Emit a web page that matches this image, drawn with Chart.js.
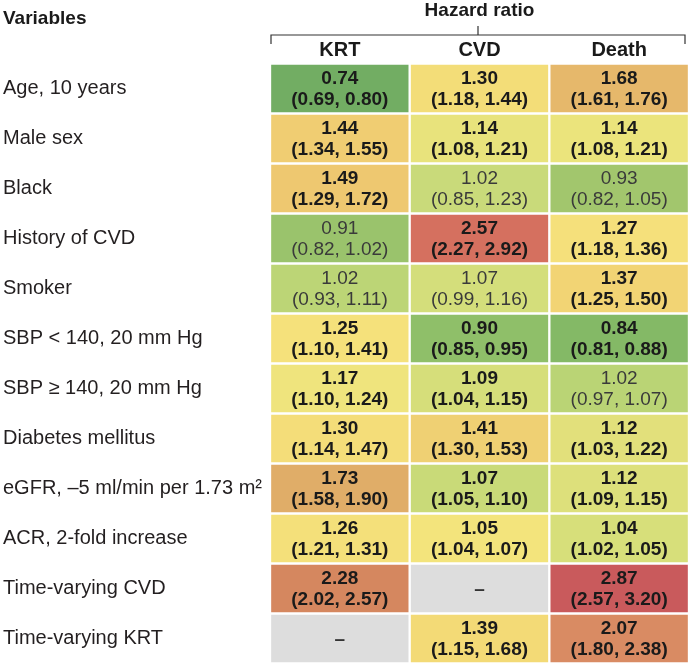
<!DOCTYPE html>
<html>
<head>
<meta charset="utf-8">
<script src="https://cdn.jsdelivr.net/npm/chart.js@4.4.1/dist/chart.umd.min.js"></script>
<style>
  html, body { margin: 0; padding: 0; background: #fff; }
</style>
</head>
<body>
<canvas id="hr_table" width="689" height="665"></canvas>
<script>
// rows and columns of the table
const variables = ["Age, 10 years", "Male sex", "Black", "History of CVD", "Smoker",
    "SBP < 140, 20 mm Hg", "SBP \u2265 140, 20 mm Hg", "Diabetes mellitus",
    "eGFR, \u20135 ml/min per 1.73 m\u00b2", "ACR, 2-fold increase",
    "Time-varying CVD", "Time-varying KRT"];
const outcomes = ["KRT", "CVD", "Death"];

// hazard ratios and 95% CI (null = not estimated)
const krtHR = [0.74, 1.44, 1.49, 0.91, 1.02, 1.25, 1.17, 1.30, 1.73, 1.26, 2.28, null];
const krtLo = [0.69, 1.34, 1.29, 0.82, 0.93, 1.10, 1.10, 1.14, 1.58, 1.21, 2.02, null];
const krtHi = [0.80, 1.55, 1.72, 1.02, 1.11, 1.41, 1.24, 1.47, 1.90, 1.31, 2.57, null];

const cvdHR = [1.30, 1.14, 1.02, 2.57, 1.07, 0.90, 1.09, 1.41, 1.07, 1.05, null, 1.39];
const cvdLo = [1.18, 1.08, 0.85, 2.27, 0.99, 0.85, 1.04, 1.30, 1.05, 1.04, null, 1.15];
const cvdHi = [1.44, 1.21, 1.23, 2.92, 1.16, 0.95, 1.15, 1.53, 1.10, 1.07, null, 1.68];

const deathHR = [1.68, 1.14, 0.93, 1.27, 1.37, 0.84, 1.02, 1.12, 1.12, 1.04, 2.87, 2.07];
const deathLo = [1.61, 1.08, 0.82, 1.18, 1.25, 0.81, 0.97, 1.03, 1.09, 1.02, 2.57, 1.80];
const deathHi = [1.76, 1.21, 1.05, 1.36, 1.50, 0.88, 1.07, 1.22, 1.15, 1.05, 3.20, 2.38];

// cell fill colours, one row per variable: KRT, CVD, Death
const cellColors = [
    ["#72ad63", "#f3dd78", "#e6b86b"],
    ["#f0cd72", "#e8e37c", "#ebe47c"],
    ["#eec870", "#c9da7a", "#a2c66d"],
    ["#9ac36c", "#d5705f", "#f5e07b"],
    ["#bcd576", "#d4de7b", "#f2d474"],
    ["#f5e17b", "#8fbf69", "#84b966"],
    ["#efe47d", "#d6de7a", "#bad475"],
    ["#f4dd79", "#efd073", "#e2e07b"],
    ["#e0ad68", "#c9da78", "#dde07b"],
    ["#f4e07a", "#f3e47c", "#d7df7a"],
    ["#d5875f", "#dddddd", "#c95a5c"],
    ["#dddddd", "#f3da76", "#d98b63"]
];

const hr = [krtHR, cvdHR, deathHR];
const lo = [krtLo, cvdLo, deathLo];
const hi = [krtHi, cvdHi, deathHi];

const FONT = '"Liberation Sans", Arial, Helvetica, sans-serif';
Chart.defaults.font.family = FONT;

// writes the estimate and CI inside each cell
const cellText = {
    id: "cellText",
    afterDatasetsDraw(chart) {
        const ctx = chart.ctx;
        ctx.save();
        ctx.textAlign = "center";
        ctx.textBaseline = "alphabetic";
        chart.data.datasets.forEach(function (ds, c) {
            chart.getDatasetMeta(c).data.forEach(function (bar, r) {
                const cx = (bar.x + bar.base) / 2;
                const cy = bar.y;
                const v = hr[c][r];
                if (v === null) {
                    ctx.font = "bold 19px " + FONT;
                    ctx.fillStyle = "#333";
                    ctx.fillText("\u2013", cx, cy + 6);
                    return;
                }
                const sig = lo[c][r] > 1 || hi[c][r] < 1;
                ctx.font = (sig ? "bold " : "") + "19px " + FONT;
                ctx.fillStyle = sig ? "#1a1a1a" : "#3a3a3a";
                ctx.fillText(v.toFixed(2), cx, cy - 5);
                ctx.fillText("(" + lo[c][r].toFixed(2) + ", " + hi[c][r].toFixed(2) + ")", cx, cy + 16.5);
            });
        });
        ctx.restore();
    }
};

// "Variables" heading and the bracket under "Hazard ratio"
const headerDecor = {
    id: "headerDecor",
    afterDraw(chart) {
        const ctx = chart.ctx;
        const xs = chart.scales.x;
        const l = xs.getPixelForValue(0) + 1;
        const r = xs.getPixelForValue(3) - 4;
        const mid = (l + r) / 2;
        ctx.save();
        ctx.strokeStyle = "#333";
        ctx.lineWidth = 1.2;
        ctx.beginPath();
        ctx.moveTo(l, 44);
        ctx.lineTo(l, 35);
        ctx.lineTo(r, 35);
        ctx.lineTo(r, 44);
        ctx.moveTo(mid, 35);
        ctx.lineTo(mid, 26);
        ctx.stroke();
        ctx.font = "bold 19px " + FONT;
        ctx.fillStyle = "#1a1a1a";
        ctx.textAlign = "left";
        ctx.textBaseline = "alphabetic";
        ctx.fillText("Variables", 3, 24);
        ctx.restore();
    }
};

let datasets = outcomes.map(function (name, c) {
    return {
        label: name,
        data: variables.map(function () { return [c, c + 1]; }),
        backgroundColor: cellColors.map(function (row) { return row[c]; }),
        borderColor: "#ffffff",
        borderWidth: 1.5,
        borderSkipped: false,
        grouped: false,
        categoryPercentage: 1,
        barPercentage: 1
    };
});

new Chart("hr_table", {
    type: "bar",
    data: {
        labels: variables,
        datasets: datasets
    },
    options: {
        responsive: false,
        animation: false,
        devicePixelRatio: 1,
        indexAxis: "y",
        layout: { padding: { left: 3, top: 0, right: 0, bottom: 1.5 } },
        plugins: {
            legend: { display: false },
            tooltip: { enabled: false }
        },
        scales: {
            x: {
                type: "linear",
                position: "top",
                min: 0,
                max: 3,
                grid: { display: false, drawTicks: false },
                border: { display: false },
                afterBuildTicks: function (axis) {
                    axis.ticks = outcomes.map(function (o, i) { return { value: i + 0.5 }; });
                },
                afterFit: function (axis) {
                    axis.height = 63.5;
                    axis.paddingLeft = 0;
                    axis.paddingRight = 0;
                },
                ticks: {
                    autoSkip: false,
                    maxRotation: 0,
                    padding: 3,
                    color: "#1a1a1a",
                    font: { size: 20, weight: "bold", lineHeight: 1 },
                    callback: function (v, i) { return outcomes[i]; }
                },
                title: {
                    display: true,
                    text: "Hazard ratio",
                    color: "#1a1a1a",
                    font: { size: 19, weight: "bold", lineHeight: 1 },
                    padding: { top: 1, bottom: 0 }
                }
            },
            y: {
                type: "category",
                grid: { display: false },
                border: { display: false },
                afterFit: function (axis) {
                    axis.width = 267;
                    axis.paddingTop = 0;
                    axis.paddingBottom = 0;
                },
                ticks: {
                    autoSkip: false,
                    crossAlign: "far",
                    padding: 0,
                    color: "#231f20",
                    font: { size: 20 }
                }
            }
        }
    },
    plugins: [cellText, headerDecor]
});
</script>
</body>
</html>
